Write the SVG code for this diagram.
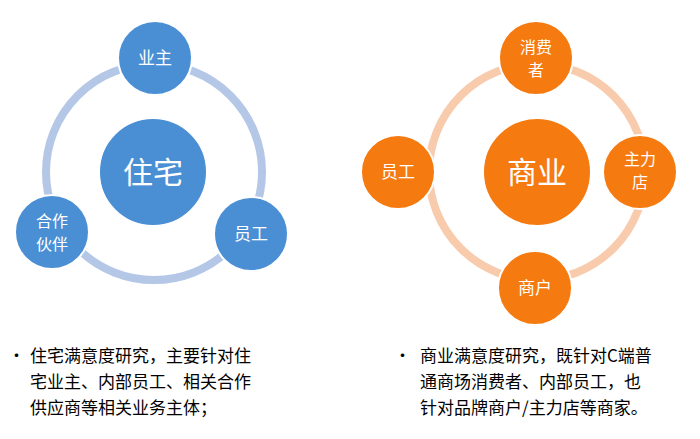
<svg xmlns="http://www.w3.org/2000/svg" width="700" height="439" viewBox="0 0 700 439">
<style>
.t{font-family:"Noto Sans CJK SC","Liberation Sans",sans-serif;fill:#fff;text-anchor:middle}
.b{font-family:"Noto Sans CJK SC","Liberation Sans",sans-serif;fill:#000;font-size:17px}
.bn{fill:#4a8fd4;stroke:#fff;stroke-width:2}
.on{fill:#f57a10;stroke:#fff;stroke-width:2}
</style>
<rect width="700" height="439" fill="#fff"/>
<g id="connectors">
<circle cx="154" cy="172" r="108" fill="none" stroke="#b4c7e7" stroke-width="8"/>
<circle cx="537" cy="172" r="108" fill="none" stroke="#f8cbad" stroke-width="8"/>
</g>
<g id="zhuzhai"><circle class="bn" cx="153" cy="172" r="54"/><text class="t" x="153" y="183" font-size="30">住宅</text></g>
<g id="yezhu"><circle class="bn" cx="155" cy="58" r="37"/><text class="t" x="155" y="64" font-size="17">业主</text></g>
<g id="hezuo"><circle class="bn" cx="52" cy="232" r="37"/><text class="t" x="52" y="227" font-size="16">合作</text><text class="t" x="52" y="250" font-size="16">伙伴</text></g>
<g id="yuangong1"><circle class="bn" cx="251" cy="234" r="37"/><text class="t" x="251" y="240" font-size="17">员工</text></g>
<g id="shangye"><circle class="on" cx="537" cy="172" r="54"/><text class="t" x="537" y="183" font-size="30">商业</text></g>
<g id="xiaofeizhe"><circle class="on" cx="536" cy="58" r="37"/><text class="t" x="536" y="53" font-size="16">消费</text><text class="t" x="536" y="76" font-size="16">者</text></g>
<g id="yuangong2"><circle class="on" cx="398" cy="172" r="37"/><text class="t" x="398" y="178" font-size="17">员工</text></g>
<g id="zhulidian"><circle class="on" cx="640" cy="172" r="37"/><text class="t" x="640" y="165" font-size="16">主力</text><text class="t" x="640" y="188" font-size="16">店</text></g>
<g id="shanghu"><circle class="on" cx="535" cy="288" r="37"/><text class="t" x="535" y="294" font-size="17">商户</text></g>
<g id="text-left">
<text class="b" x="8" y="362">•</text>
<text class="b" x="30" y="362">住宅满意度研究，主要针对住</text>
<text class="b" x="30" y="388">宅业主、内部员工、相关合作</text>
<text class="b" x="30" y="414">供应商等相关业务主体；</text>
</g>
<g id="text-right">
<text class="b" x="394" y="362">•</text>
<text class="b" x="420" y="362">商业满意度研究，既针对C端普</text>
<text class="b" x="420" y="388">通商场消费者、内部员工，也</text>
<text class="b" x="420" y="414">针对品牌商户/主力店等商家。</text>
</g>
</svg>
